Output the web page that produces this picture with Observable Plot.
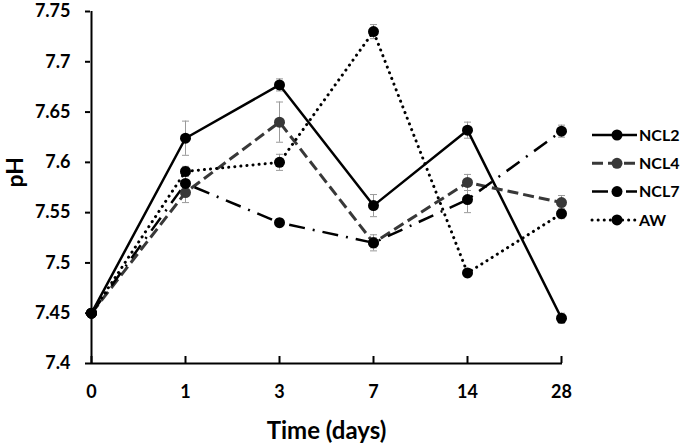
<!DOCTYPE html>
<html>
<head>
<meta charset="utf-8">
<script src="https://cdn.jsdelivr.net/npm/d3@7"></script>
<script src="https://cdn.jsdelivr.net/npm/@observablehq/plot@0.6"></script>
<style>
  body { margin: 0; background: #fff; }
  #chart svg { display: block; }
</style>
</head>
<body>
<div id="chart"></div>
<script>
const days = ["0", "1", "3", "7", "14", "28"];
const seriesNames = ["NCL2", "NCL4", "NCL7", "AW"];
const ncl2 = [7.45, 7.624, 7.677, 7.557, 7.632, 7.445];
const ncl4 = [7.45, 7.570, 7.640, 7.520, 7.580, 7.560];
const ncl7 = [7.45, 7.579, 7.540, 7.520, 7.563, 7.631];
const aw   = [7.45, 7.591, 7.600, 7.730, 7.490, 7.549];
const ncl2Err = [0, 0.017, 0.006, 0.011, 0.008, 0.005];
const ncl4Err = [0, 0.010, 0.020, 0.008, 0.008, 0.007];
const ncl7Err = [0, 0.010, 0.004, 0.005, 0.013, 0.006];
const awErr   = [0, 0.005, 0.008, 0.007, 0.004, 0.005];
const yTicks = [7.4, 7.45, 7.5, 7.55, 7.6, 7.65, 7.7, 7.75];

const values = [ncl2, ncl4, ncl7, aw];
const errs = [ncl2Err, ncl4Err, ncl7Err, awErr];
const styles = {
  NCL2: {stroke: "#000", dash: null, width: 2.5, cap: "butt", fill: "#000"},
  NCL4: {stroke: "#383838", dash: "11 5", width: 3, cap: "butt", fill: "#383838"},
  NCL7: {stroke: "#000", dash: "16 8 2 8", width: 2.5, cap: "butt", fill: "#000"},
  AW:   {stroke: "#000", dash: "0.1 6", width: 3, cap: "round", fill: "#000"}
};

const rows = [];
seriesNames.forEach((s, i) => {
  days.forEach((d, j) => rows.push({series: s, day: d, ph: values[i][j], err: errs[i][j]}));
});

// custom symbol: short horizontal line for error-bar caps
const capSymbol = {draw(ctx) { ctx.moveTo(-3.5, 0); ctx.lineTo(3.5, 0); }};

const font = "Lato, 'Open Sans', sans-serif";
const marks = [];
const errRows = rows.filter(r => r.err > 0);
marks.push(Plot.ruleX(errRows, {x: "day", y1: r => r.ph - r.err, y2: r => r.ph + r.err, stroke: "#9a9a9a", strokeWidth: 1}));
marks.push(Plot.dot(errRows, {x: "day", y: r => r.ph - r.err, symbol: capSymbol, stroke: "#9a9a9a", strokeWidth: 1, fill: "none"}));
marks.push(Plot.dot(errRows, {x: "day", y: r => r.ph + r.err, symbol: capSymbol, stroke: "#9a9a9a", strokeWidth: 1, fill: "none"}));
seriesNames.forEach(s => {
  const st = styles[s];
  const data = rows.filter(r => r.series === s);
  marks.push(Plot.line(data, {x: "day", y: "ph", stroke: st.stroke, strokeWidth: st.width, strokeDasharray: st.dash, strokeLinecap: st.cap}));
});
seriesNames.forEach(s => {
  const st = styles[s];
  const data = rows.filter(r => r.series === s);
  marks.push(Plot.dot(data, {x: "day", y: "ph", r: 5.5, fill: st.fill, stroke: "none"}));
});

const chart = Plot.plot({
  width: 683,
  height: 445,
  marginLeft: 90,
  marginRight: 121,
  marginTop: 11,
  marginBottom: 82,
  style: {fontFamily: font, background: "#fff", overflow: "visible"},
  x: {type: "point", domain: days, padding: 0},
  y: {domain: [7.4, 7.75]},
  marks: [
    ...marks,
    Plot.axisY({ticks: yTicks, tickSize: 5, tickPadding: 15, tickFormat: d => String(+d.toFixed(2)), fontSize: 18, fontWeight: "bold", label: null, stroke: "#000", strokeWidth: 2}),
    Plot.axisX({tickSize: 0, tickPadding: 22, fontSize: 18, fontWeight: "bold", label: null}),
    Plot.ruleX(days, {x: d => d, y1: 7.4, y2: 7.4, stroke: "#000", strokeWidth: 2, insetTop: -7}),
    Plot.ruleX([days[0]], {x: d => d, y1: 7.4, y2: 7.75, stroke: "#000", strokeWidth: 2}),
    Plot.ruleY([7.4], {stroke: "#000", strokeWidth: 2}),
    Plot.text(["Time (days)"], {frameAnchor: "bottom", lineAnchor: "middle", dy: 68, fontSize: 24, fontWeight: "bold", fill: "#000"}),
    Plot.text(["pH"], {frameAnchor: "left", dx: -75, rotate: -90, fontSize: 23, fontWeight: "bold", fill: "#000"})
  ]
});

// legend
const svg = d3.select(chart);
const lg = svg.append("g").attr("transform", "translate(592,135)").attr("font-family", font);
seriesNames.forEach((s, i) => {
  const st = styles[s];
  const g = lg.append("g").attr("transform", `translate(0,${i * 28.3})`);
  g.append("line").attr("x1", 0).attr("x2", 45).attr("y1", 0).attr("y2", 0)
    .attr("stroke", st.stroke).attr("stroke-width", st.width)
    .attr("stroke-dasharray", st.dash).attr("stroke-linecap", st.cap);
  g.append("circle").attr("cx", 25).attr("cy", 0).attr("r", 5.5).attr("fill", st.fill);
  g.append("text").attr("x", 47).attr("y", 0).attr("dy", "0.35em")
    .attr("text-anchor", "start")
    .attr("font-size", 16).attr("font-weight", "bold").attr("fill", "#000").text(s);
});

document.getElementById("chart").appendChild(chart);
</script>
</body>
</html>
